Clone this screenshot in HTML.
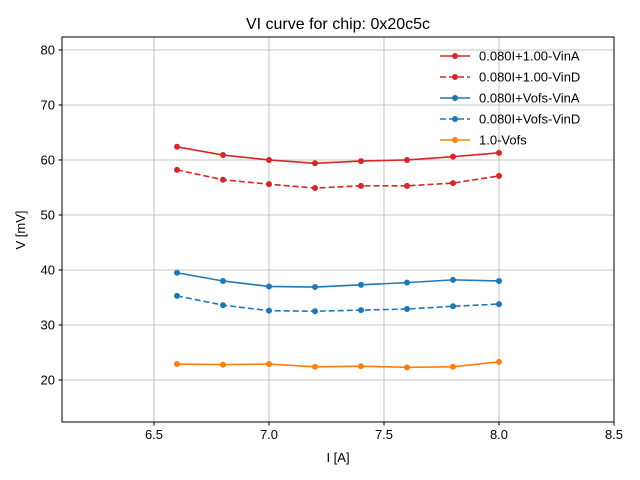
<!DOCTYPE html>
<html><head><meta charset="utf-8"><style>
body{margin:0;background:#fff;}
svg{display:block;font-family:"Liberation Sans","DejaVu Sans",sans-serif;}
</style></head><body>
<svg id="chart" width="640" height="480">
<rect width="640" height="480" fill="#fff"/>
<g id="grid"></g>
<g id="series"></g>
<rect x="62" y="37" width="552" height="385" fill="none" stroke="#000" stroke-width="1"/>
<g id="axes"></g>
<text x="338" y="29" font-size="16" text-anchor="middle">VI curve for chip: 0x20c5c</text>
<text x="338" y="462" font-size="13" text-anchor="middle">I [A]</text>
<text x="25" y="230" font-size="13" text-anchor="middle" transform="rotate(-90 25 230)">V [mV]</text>
<g id="legend"></g>
</svg>
<script>
const currents=[6.6,6.8,7.0,7.2,7.4,7.6,7.8,8.0];
const redSolid=[62.4,60.9,60.0,59.4,59.8,60.0,60.6,61.3];
const redDashed=[58.2,56.4,55.6,54.9,55.3,55.3,55.8,57.1];
const blueSolid=[39.5,38.0,37.0,36.9,37.3,37.7,38.2,38.0];
const blueDashed=[35.3,33.6,32.6,32.5,32.7,32.9,33.4,33.8];
const orangeVals=[22.9,22.8,22.9,22.4,22.5,22.3,22.4,23.3];
const seriesNames=["0.080I+1.00-VinA","0.080I+1.00-VinD","0.080I+Vofs-VinA","0.080I+Vofs-VinD","1.0-Vofs"];
const xTicks=[6.5,7.0,7.5,8.0,8.5];
const yTicks=[20,30,40,50,60,70,80];
const NS="http://www.w3.org/2000/svg";
const X0=62,X1=614,Y0=422,Y1=37,xmin=6.1,xmax=8.5,ymin=12.36,ymax=82.36;
const xs=v=>X0+(v-xmin)/(xmax-xmin)*(X1-X0);
const ys=v=>Y0-(v-ymin)/(ymax-ymin)*(Y0-Y1);
function mk(tag,attrs,parent){const e=document.createElementNS(NS,tag);for(const k in attrs)e.setAttribute(k,attrs[k]);parent.appendChild(e);return e;}
const grid=document.getElementById('grid'),axes=document.getElementById('axes');
xTicks.forEach(t=>{const x=xs(t);
 const g=mk('line',{x1:x,x2:x,y1:Y1,y2:Y0,stroke:'#b0b0b0','stroke-width':0.8},grid);
 
 mk('line',{x1:x,x2:x,y1:Y0,y2:Y0+3.5,stroke:'#000'},axes);
 const tx=mk('text',{x:x,y:Y0+17,'font-size':13,'text-anchor':'middle'},axes);tx.textContent=t.toFixed(1);
 });
yTicks.forEach(t=>{const y=ys(t);
 const g=mk('line',{x1:X0,x2:X1,y1:y,y2:y,stroke:'#b0b0b0','stroke-width':0.8},grid);
 
 mk('line',{x1:X0-3.5,x2:X0,y1:y,y2:y,stroke:'#000'},axes);
 const tx=mk('text',{x:X0-7,y:y+4.5,'font-size':13,'text-anchor':'end'},axes);tx.textContent=t;
 });
const defs=[[redSolid,'#d62728',''],[redDashed,'#d62728','6,3'],[blueSolid,'#1f77b4',''],[blueDashed,'#1f77b4','6,3'],[orangeVals,'#ff7f0e','']];
const sg=document.getElementById('series'),lg=document.getElementById('legend');
defs.forEach((d,i)=>{const [vals,c,dash]=d;
 const g=mk('g',{},sg);
 
 const pts=vals.map((v,j)=>xs(currents[j])+','+ys(v)).join(' ');
 mk('polyline',{points:pts,fill:'none',stroke:c,'stroke-width':1.6,'stroke-dasharray':dash},g);
 vals.forEach((v,j)=>{const p=mk('circle',{cx:xs(currents[j]),cy:ys(v),r:3,fill:c},g);
  });
 const ly=56+i*21;
 const le=mk('g',{},lg);
 
 mk('line',{x1:440,x2:470,y1:ly,y2:ly,stroke:c,'stroke-width':1.6,'stroke-dasharray':dash},le);
 mk('circle',{cx:455,cy:ly,r:3,fill:c},le);
 const t=mk('text',{x:479,y:ly+4.5,'font-size':13},le);t.textContent=seriesNames[i];});
</script>
</body></html>
